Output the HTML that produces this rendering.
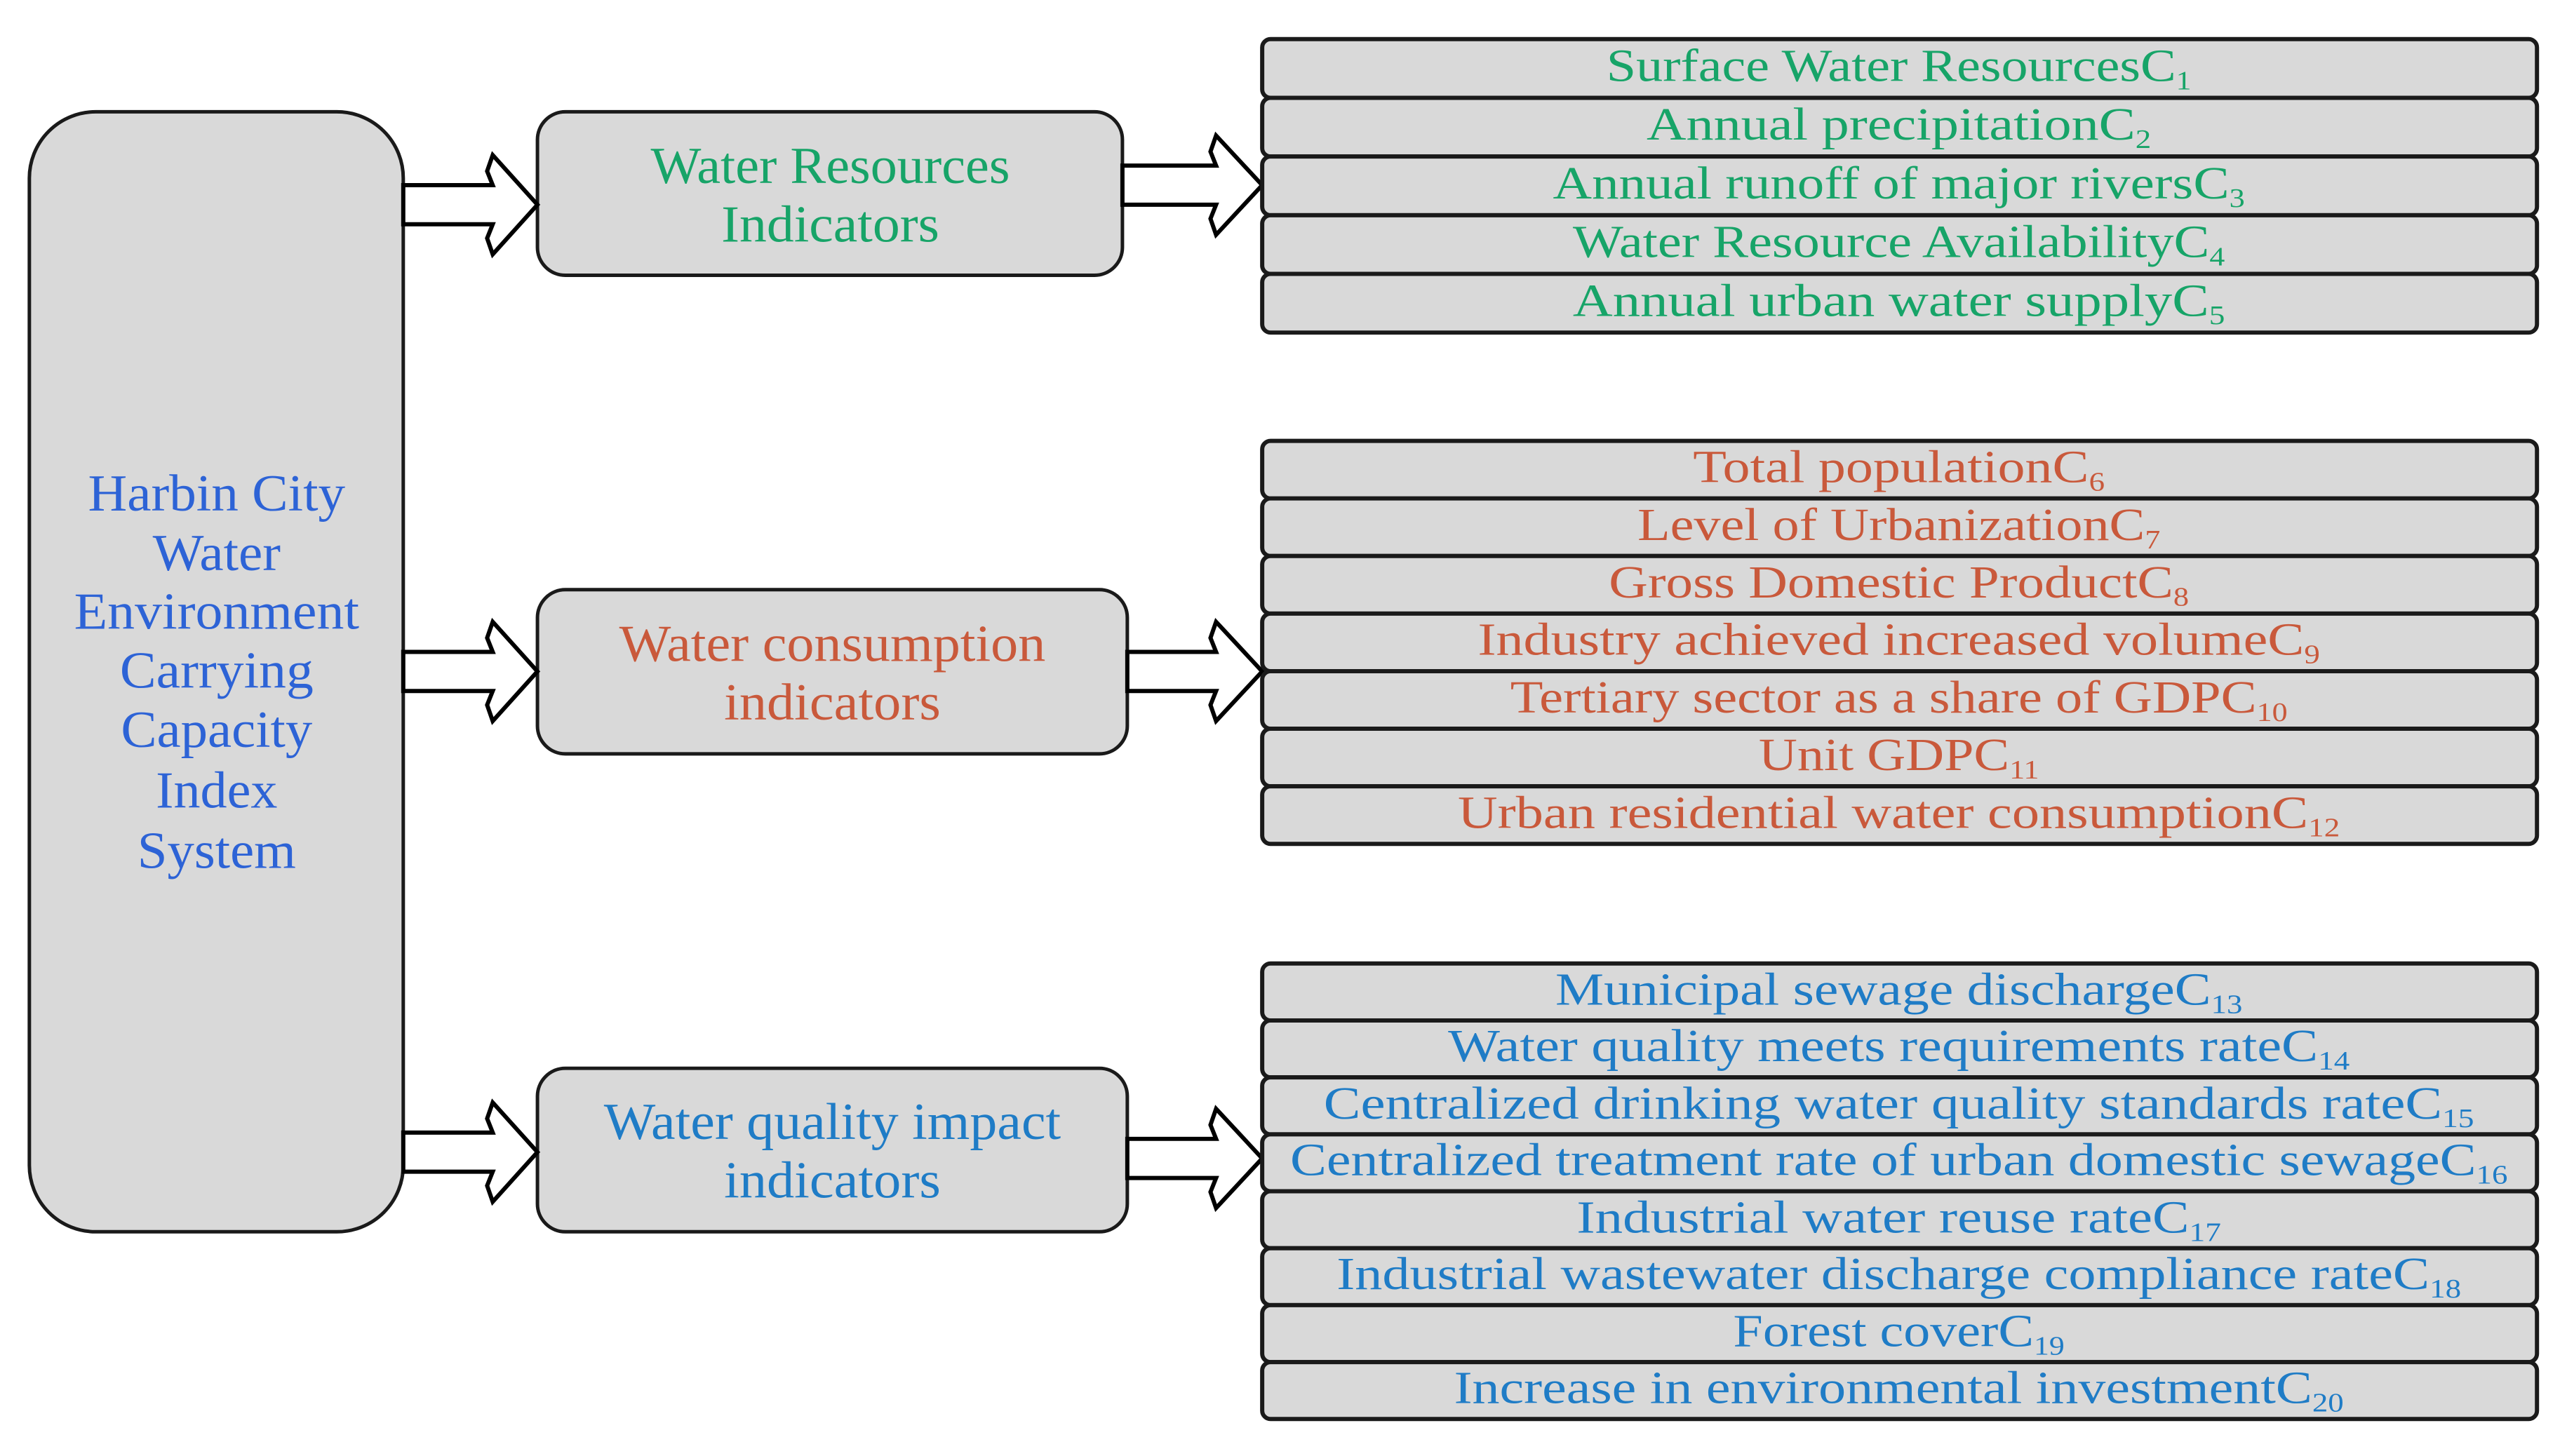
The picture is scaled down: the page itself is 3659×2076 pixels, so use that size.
<!DOCTYPE html>
<html><head><meta charset="utf-8"><style>
html,body{margin:0;padding:0;background:#fff;}
svg{display:block;}
text{font-family:"Liberation Serif",serif;}
.g{fill:#17a468;}
.o{fill:#c9593b;}
.b{fill:#1f7cc6;}
.row{fill:#d9d9d9;stroke:#1a1a1a;stroke-width:6;}
.box{fill:#d9d9d9;stroke:#1a1a1a;stroke-width:5;}
.ar{fill:#fff;stroke:#000;stroke-width:6;stroke-linejoin:miter;}
.rt{font-size:66px;}
.sub{font-size:38px;}
</style></head><body>
<svg width="3659" height="2076" viewBox="0 0 3659 2076" xmlns="http://www.w3.org/2000/svg">
<g transform="scale(0.9962)">
<!-- left box -->
<rect class="box" x="42" y="160" width="535" height="1603" rx="95" ry="95"/>
<g font-size="74" text-anchor="middle" fill="#2d63d6">
<text x="310" y="731" textLength="368" lengthAdjust="spacingAndGlyphs">Harbin City</text>
<text x="310" y="816" textLength="183" lengthAdjust="spacingAndGlyphs">Water</text>
<text x="310" y="900" textLength="408" lengthAdjust="spacingAndGlyphs">Environment</text>
<text x="310" y="984" textLength="277" lengthAdjust="spacingAndGlyphs">Carrying</text>
<text x="310" y="1069" textLength="274" lengthAdjust="spacingAndGlyphs">Capacity</text>
<text x="310" y="1156" textLength="174" lengthAdjust="spacingAndGlyphs">Index</text>
<text x="310" y="1242" textLength="227" lengthAdjust="spacingAndGlyphs">System</text>
</g>
<!-- mid boxes -->
<rect class="box" x="769" y="160" width="837" height="234" rx="40" ry="40"/>
<rect class="box" x="769" y="844" width="844" height="235" rx="40" ry="40"/>
<rect class="box" x="769" y="1529" width="844" height="234" rx="40" ry="40"/>
<g font-size="74" text-anchor="middle">
<text class="g" x="1188" y="262" textLength="514" lengthAdjust="spacingAndGlyphs">Water Resources</text>
<text class="g" x="1188" y="346" textLength="312" lengthAdjust="spacingAndGlyphs">Indicators</text>
<text class="o" x="1191" y="946" textLength="610" lengthAdjust="spacingAndGlyphs">Water consumption</text>
<text class="o" x="1191" y="1030" textLength="310" lengthAdjust="spacingAndGlyphs">indicators</text>
<text class="b" x="1191" y="1630" textLength="654" lengthAdjust="spacingAndGlyphs">Water quality impact</text>
<text class="b" x="1191" y="1714" textLength="310" lengthAdjust="spacingAndGlyphs">indicators</text>
</g>
<!-- arrows left -->
<polygon class="ar" points="577,265 705,265 697,245 705,222 769,293 705,364 697,341 705,321 577,321"/>
<polygon class="ar" points="577,933 705,933 697,913 705,890 769,961 705,1032 697,1009 705,989 577,989"/>
<polygon class="ar" points="577,1621 705,1621 697,1601 705,1578 769,1649 705,1720 697,1697 705,1677 577,1677"/>
<!-- arrows right -->
<polygon class="ar" points="1606,237 1740,237 1732,217 1740,194 1806,265 1740,336 1732,313 1740,293 1606,293"/>
<polygon class="ar" points="1613,933 1740,933 1732,913 1740,890 1806,961 1740,1032 1732,1009 1740,989 1613,989"/>
<polygon class="ar" points="1613,1630 1740,1630 1732,1610 1740,1587 1806,1658 1740,1729 1732,1706 1740,1686 1613,1686"/>
<!-- group1 rows -->
<g>
<rect class="row" x="1806" y="56" width="1824" height="84" rx="12"/>
<rect class="row" x="1806" y="140" width="1824" height="84" rx="12"/>
<rect class="row" x="1806" y="224" width="1824" height="84" rx="12"/>
<rect class="row" x="1806" y="308" width="1824" height="84" rx="12"/>
<rect class="row" x="1806" y="392" width="1824" height="84" rx="12"/>
</g>
<g class="rt" text-anchor="middle">
<text class="g" x="2717" y="116" textLength="837" lengthAdjust="spacingAndGlyphs">Surface Water ResourcesC<tspan class="sub" dy="12">1</tspan></text>
<text class="g" x="2717" y="200" textLength="722" lengthAdjust="spacingAndGlyphs">Annual precipitationC<tspan class="sub" dy="12">2</tspan></text>
<text class="g" x="2717" y="284" textLength="990" lengthAdjust="spacingAndGlyphs">Annual runoff of major riversC<tspan class="sub" dy="12">3</tspan></text>
<text class="g" x="2717" y="368" textLength="933" lengthAdjust="spacingAndGlyphs">Water Resource AvailabilityC<tspan class="sub" dy="12">4</tspan></text>
<text class="g" x="2717" y="452" textLength="933" lengthAdjust="spacingAndGlyphs">Annual urban water supplyC<tspan class="sub" dy="12">5</tspan></text>
</g>
<!-- group2 rows -->
<g>
<rect class="row" x="1806" y="631" width="1824" height="82.4" rx="12"/>
<rect class="row" x="1806" y="713.4" width="1824" height="82.4" rx="12"/>
<rect class="row" x="1806" y="795.8" width="1824" height="82.4" rx="12"/>
<rect class="row" x="1806" y="878.2" width="1824" height="82.4" rx="12"/>
<rect class="row" x="1806" y="960.6" width="1824" height="82.4" rx="12"/>
<rect class="row" x="1806" y="1043" width="1824" height="82.4" rx="12"/>
<rect class="row" x="1806" y="1125.4" width="1824" height="82.4" rx="12"/>
</g>
<g class="rt" text-anchor="middle">
<text class="o" x="2717" y="690" textLength="589" lengthAdjust="spacingAndGlyphs">Total populationC<tspan class="sub" dy="12">6</tspan></text>
<text class="o" x="2717" y="773" textLength="748" lengthAdjust="spacingAndGlyphs">Level of UrbanizationC<tspan class="sub" dy="12">7</tspan></text>
<text class="o" x="2717" y="855" textLength="830" lengthAdjust="spacingAndGlyphs">Gross Domestic ProductC<tspan class="sub" dy="12">8</tspan></text>
<text class="o" x="2717" y="937" textLength="1205" lengthAdjust="spacingAndGlyphs">Industry achieved increased volumeC<tspan class="sub" dy="12">9</tspan></text>
<text class="o" x="2717" y="1020" textLength="1112" lengthAdjust="spacingAndGlyphs">Tertiary sector as a share of GDPC<tspan class="sub" dy="12">10</tspan></text>
<text class="o" x="2717" y="1102" textLength="401" lengthAdjust="spacingAndGlyphs">Unit GDPC<tspan class="sub" dy="12">11</tspan></text>
<text class="o" x="2717" y="1185" textLength="1262" lengthAdjust="spacingAndGlyphs">Urban residential water consumptionC<tspan class="sub" dy="12">12</tspan></text>
</g>
<!-- group3 rows -->
<g>
<rect class="row" x="1806" y="1379" width="1824" height="81.5" rx="12"/>
<rect class="row" x="1806" y="1460.5" width="1824" height="81.5" rx="12"/>
<rect class="row" x="1806" y="1542" width="1824" height="81.5" rx="12"/>
<rect class="row" x="1806" y="1623.5" width="1824" height="81.5" rx="12"/>
<rect class="row" x="1806" y="1705" width="1824" height="81.5" rx="12"/>
<rect class="row" x="1806" y="1786.5" width="1824" height="81.5" rx="12"/>
<rect class="row" x="1806" y="1868" width="1824" height="81.5" rx="12"/>
<rect class="row" x="1806" y="1949.5" width="1824" height="81.5" rx="12"/>
</g>
<g class="rt" text-anchor="middle">
<text class="b" x="2717" y="1438" textLength="983" lengthAdjust="spacingAndGlyphs">Municipal sewage dischargeC<tspan class="sub" dy="12">13</tspan></text>
<text class="b" x="2717" y="1519" textLength="1290" lengthAdjust="spacingAndGlyphs">Water quality meets requirements rateC<tspan class="sub" dy="12">14</tspan></text>
<text class="b" x="2717" y="1601" textLength="1646" lengthAdjust="spacingAndGlyphs">Centralized drinking water quality standards rateC<tspan class="sub" dy="12">15</tspan></text>
<text class="b" x="2717" y="1682" textLength="1742" lengthAdjust="spacingAndGlyphs">Centralized treatment rate of urban domestic sewageC<tspan class="sub" dy="12">16</tspan></text>
<text class="b" x="2717" y="1764" textLength="922" lengthAdjust="spacingAndGlyphs">Industrial water reuse rateC<tspan class="sub" dy="12">17</tspan></text>
<text class="b" x="2717" y="1845" textLength="1609" lengthAdjust="spacingAndGlyphs">Industrial wastewater discharge compliance rateC<tspan class="sub" dy="12">18</tspan></text>
<text class="b" x="2717" y="1927" textLength="474" lengthAdjust="spacingAndGlyphs">Forest coverC<tspan class="sub" dy="12">19</tspan></text>
<text class="b" x="2717" y="2008" textLength="1273" lengthAdjust="spacingAndGlyphs">Increase in environmental investmentC<tspan class="sub" dy="12">20</tspan></text>
</g>
</g>
</svg>
</body></html>
